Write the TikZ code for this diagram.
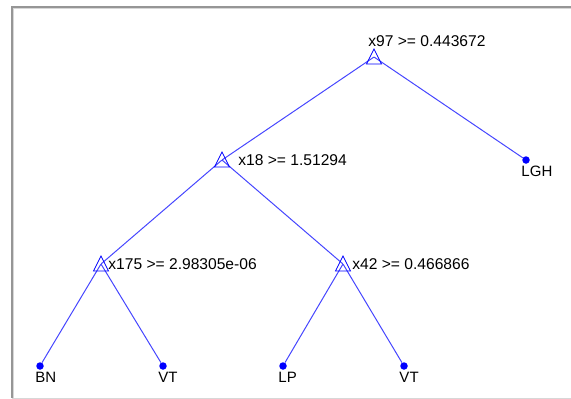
\documentclass[tikz,border=0pt]{standalone}
\usepackage{fontspec}
\setmainfont{Liberation Sans}
\definecolor{treeblue}{RGB}{0,0,255}
\definecolor{edgeblue}{RGB}{70,70,255}
\definecolor{framegray}{RGB}{150,150,150}
\definecolor{framelight}{RGB}{215,215,215}
\usetikzlibrary{positioning}

\begin{document}
\begin{tikzpicture}[x=1pt,y=-1pt,
    split/.style={inner sep=0pt,minimum size=0pt},
    leaf/.style={circle,fill=treeblue,inner sep=0pt,minimum size=7.5pt},
    splitlabel/.style={inner sep=0pt,anchor=west,font=\fontsize{15.6}{17}\selectfont},
    leaflabel/.style={inner sep=0pt,font=\fontsize{15}{17}\selectfont},
    treeedge/.style={edgeblue,line width=1pt},
    splitmark/.pic={\draw[treeblue,line width=0.8pt] (0,-8) -- (7.5,7) -- (-7.5,7) -- cycle;}]
  \useasboundingbox (0,0) rectangle (571,399);
  %% Window frame
  \draw[framegray,line width=1.2pt] (12,398) -- (12,7) -- (571,7);
  \draw[framelight,line width=1pt] (13.5,398) -- (13.5,8.5) -- (571,8.5);
  \draw[framelight,line width=1pt] (12,398) -- (571,398);
  %% Split nodes
  \node[split] (x97)  at (374,57)  {};
  \node[split] (x18)  at (222,160) {};
  \node[split] (x175) at (101,264) {};
  \node[split] (x42)  at (343,264) {};
  %% Leaf nodes
  \node[leaf] (lgh) at (526,160) {};
  \node[leaf] (bn)  at (40,366)  {};
  \node[leaf] (vta) at (163,366) {};
  \node[leaf] (lp)  at (283,366) {};
  \node[leaf] (vtb) at (404,366) {};
  %% Branches
  \draw[treeedge] (x97) -- (x18);
  \draw[treeedge] (x97) -- (lgh);
  \draw[treeedge] (x18) -- (x175);
  \draw[treeedge] (x18) -- (x42);
  \draw[treeedge] (x175) -- (bn);
  \draw[treeedge] (x175) -- (vta);
  \draw[treeedge] (x42) -- (lp);
  \draw[treeedge] (x42) -- (vtb);
  %% Split markers
  \foreach \n in {x97,x18,x175,x42}
    \path (\n) pic {splitmark};
  %% Split rules
  \node[splitlabel,anchor=south west,above right=10pt and -6pt of x97] (x97lab) {x97 >= 0.443672};
  \node[splitlabel,right=16pt of x18]  (x18lab)  {x18 >= 1.51294};
  \node[splitlabel,right=7pt of x175]  (x175lab) {x175 >= 2.98305e-06};
  \node[splitlabel,right=9pt of x42]   (x42lab)  {x42 >= 0.466866};
  %% Class labels
  \node[leaflabel,below right=3.5pt and -7.5pt of lgh] (lghlab) {LGH};
  \node[leaflabel,below right=3.5pt and -7.5pt of bn]  (bnlab)  {BN};
  \node[leaflabel,below right=3.5pt and -7.5pt of vta] (vtalab) {VT};
  \node[leaflabel,below right=3.5pt and -7.5pt of lp]  (lplab)  {LP};
  \node[leaflabel,below right=3.5pt and -7.5pt of vtb] (vtblab) {VT};
\end{tikzpicture}
\end{document}
